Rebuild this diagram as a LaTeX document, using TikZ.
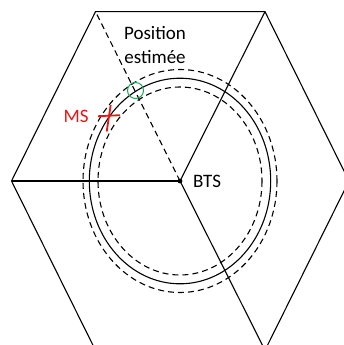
\documentclass[tikz,border=0pt]{standalone}
\usepackage{fontspec}
\setmainfont{Carlito}
\usetikzlibrary{positioning}
\definecolor{msred}{RGB}{235,20,20}
\definecolor{estgreen}{RGB}{30,165,85}

\begin{document}
\begin{tikzpicture}[
  x=1pt, y=-1pt,
  edge/.style={line width=1.1pt},
  ring/.style={line width=1.1pt, dash pattern=on 6pt off 4pt},
  lbl/.style={font=\fontsize{19}{24.5}\selectfont, inner sep=0pt, align=center},
  mscross/.style={draw=msred, line width=1.8pt},
  node distance=6pt
]
  \useasboundingbox (0,0) rectangle (344,345);
  \clip (0,0) rectangle (344,345);

  % hexagon corners
  \coordinate (bts) at (180,181);
  \coordinate (tl)  at (95.5,11.7);
  \coordinate (tr)  at (265,11.7);
  \coordinate (r)   at (349,181);
  \coordinate (br)  at (265,350.3);
  \coordinate (bl)  at (95.5,350.3);
  \coordinate (l)   at (11.5,181);

  \draw[edge] (tl) -- (tr) -- (r) -- (br) -- (bl) -- (l) -- cycle;
  \draw[edge] (bts) -- (l);
  \draw[edge] (bts) -- (tr);
  \draw[edge] (bts) -- (br);
  \draw[ring] (bts) -- (tl);

  % distance rings
  \draw[edge] (bts) ellipse [x radius=90.7, y radius=102.8];
  \draw[ring] (bts) ellipse [x radius=97, y radius=111.5];
  \draw[ring] (bts) ellipse [x radius=82, y radius=94];

  \fill (bts) circle [radius=2.4];
  \node[lbl, right=13pt of bts] (btslbl) {BTS};

  % estimate and mobile
  \node[draw=estgreen, line width=1pt, circle, minimum size=16pt, inner sep=0pt] (est) at (135.5,90.5) {};
  \node[lbl] (estlbl) at (155,45) {Position\\estimée};

  \coordinate (msw) at (98,116.2);
  \coordinate (mse) at (120,115.2);
  \coordinate (msn) at (110.7,105);
  \coordinate (mss) at (106.7,131.5);
  \draw[mscross] (msw) -- (mse) (msn) -- (mss);
  \node[lbl, text=msred] (mslbl) at (76,116) {MS};
\end{tikzpicture}
\end{document}
